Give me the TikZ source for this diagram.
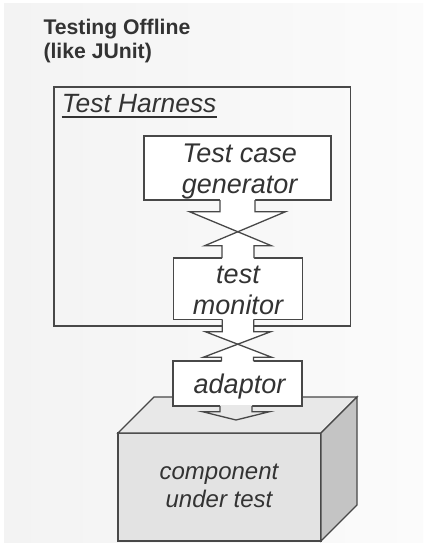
\documentclass[tikz,border=0pt]{standalone}
\usepackage{fontspec}
\setmainfont{Liberation Sans}
\usetikzlibrary{calc}
\definecolor{ln}{HTML}{484848}
\definecolor{tx}{HTML}{333333}
\definecolor{bgA}{HTML}{F3F3F3}
\definecolor{bgB}{HTML}{FBFBFB}
\definecolor{cubetop}{HTML}{E8E8E8}
\definecolor{cubefront}{HTML}{E3E3E3}
\definecolor{cubeside}{HTML}{C4C4C4}
% #1 upper node, #2 lower node, #3 top stem half width, #4 top flange drop,
% #5 top flange half width, #6 bottom flange rise, #7 bottom flange half width
\newcommand\xlink[7]{%
  \coordinate (a1) at ($(#1.south)+(-#3,0)$);
  \coordinate (a2) at ($(#1.south)+(-#3,#4)$);
  \coordinate (a3) at ($(#1.south)+(-#5,#4)$);
  \coordinate (b1) at ($(#1.south)+(#3,0)$);
  \coordinate (b2) at ($(#1.south)+(#3,#4)$);
  \coordinate (b3) at ($(#1.south)+(#5,#4)$);
  \coordinate (c1) at ($(#2.north)+(16,0)$);
  \coordinate (c2) at ($(#2.north)+(16,-#6)$);
  \coordinate (c3) at ($(#2.north)+(#7,-#6)$);
  \coordinate (d1) at ($(#2.north)+(-16,0)$);
  \coordinate (d2) at ($(#2.north)+(-16,-#6)$);
  \coordinate (d3) at ($(#2.north)+(-#7,-#6)$);
  \coordinate (xx) at (intersection of a3--c3 and b3--d3);
  \fill[white] ($(a1)+(0,-0.9)$) -- (a2) -- (a3) -- (xx) -- (b3) -- (b2) -- ($(b1)+(0,-0.9)$) -- cycle;
  \fill[white] ($(d1)+(0,0.9)$) -- (d2) -- (d3) -- (xx) -- (c3) -- (c2) -- ($(c1)+(0,0.9)$) -- cycle;
  \draw[conn] (a1) -- (a2) -- (a3) -- (c3) -- (c2) -- (c1);
  \draw[conn] (b1) -- (b2) -- (b3) -- (d3) -- (d2) -- (d1);
}
\begin{document}
\begin{tikzpicture}[x=1pt,y=-1pt,
  box/.style={draw=ln, line width=1.3pt, fill=white, inner sep=0pt, outer sep=0pt},
  conn/.style={draw=ln, line width=1.3pt, line join=miter},
  face/.style={draw=ln, line width=1.3pt, line join=miter},
  lbl/.style={text=tx, font=\fontsize{27}{31}\selectfont\itshape, align=center, inner sep=0pt},
]
\useasboundingbox (0,0) rectangle (423,543);
\fill[white] (0,0) rectangle (423,543);
\shade[left color=bgA, right color=bgB] (4,4) rectangle (423,543);

% title
\node[anchor=north west, inner sep=0pt, align=left, text=tx,
      font=\fontsize{21.2}{24}\selectfont\bfseries] (title) at (43.3,19)
      {Testing Offline\\(like JUnit)};

% harness
\node[box, fill=none, minimum width=296.7, minimum height=239] (harness) at (202.35,206.5) {};
\node[anchor=base west, inner sep=0pt, text=tx, font=\fontsize{26.4}{30}\selectfont\itshape]
      (tag) at (61.7,112.7) {Test Harness};
\draw[tx, line width=1.8pt] ($(tag.base west)+(0,4)$) -- ($(tag.base east)+(0,4)$);

% boxes
\node[box, minimum width=187, minimum height=64] (gen) at (237.5,168) {};
\node[box, minimum width=129.4, minimum height=61.3] (mon) at (238,288.65) {};

% component under test (cube)
\node[box, fill=cubefront, minimum width=203, minimum height=108] (cut) at (219.5,487) {};
\filldraw[face, fill=cubetop] (cut.north west) -- ($(cut.north west)+(36,-36)$)
   -- ($(cut.north east)+(36,-36)$) -- (cut.north east) -- cycle;
\filldraw[face, fill=cubeside] (cut.north east) -- ($(cut.north east)+(36,-36)$)
   -- ($(cut.south east)+(36,-36)$) -- (cut.south east) -- cycle;

\node[box, minimum width=129, minimum height=45] (adp) at (237.5,383.5) {};

% connectors
\xlink{gen}{mon}{17.5}{11.7}{48}{12.3}{33.3}
\xlink{mon}{adp}{15.8}{12.4}{32.7}{3.7}{34.3}

% arrow from adaptor into the component
\coordinate (tip) at ($(adp.south)+(-1.5,14)$);
\coordinate (p1) at ($(adp.south)+(-17.5,0)$);
\coordinate (p2) at ($(adp.south)+(-17.5,5.7)$);
\coordinate (p3) at ($(adp.south)+(-35,5.7)$);
\coordinate (q1) at ($(adp.south)+(14.5,0)$);
\coordinate (q2) at ($(adp.south)+(14.5,5.7)$);
\coordinate (q3) at ($(adp.south)+(32,5.7)$);
\fill[cubetop] ($(p1)+(0,-0.9)$) -- (p2) -- (p3) -- (tip) -- (q3) -- (q2) -- ($(q1)+(0,-0.9)$) -- cycle;
\draw[conn] (p1) -- (p2) -- (p3) -- (tip) -- (q3) -- (q2) -- (q1);

% labels
\node[lbl] (genl) at (239.7,172) {Test case\\generator};
\node[lbl] (monl) at (238,290.3) {test\\monitor};
\node[lbl] (adpl) at (239.5,386.5) {adaptor};
\node[lbl, font=\fontsize{24}{28}\selectfont\itshape] (cutl) at (219,486) {component\\under test};
\end{tikzpicture}
\end{document}
